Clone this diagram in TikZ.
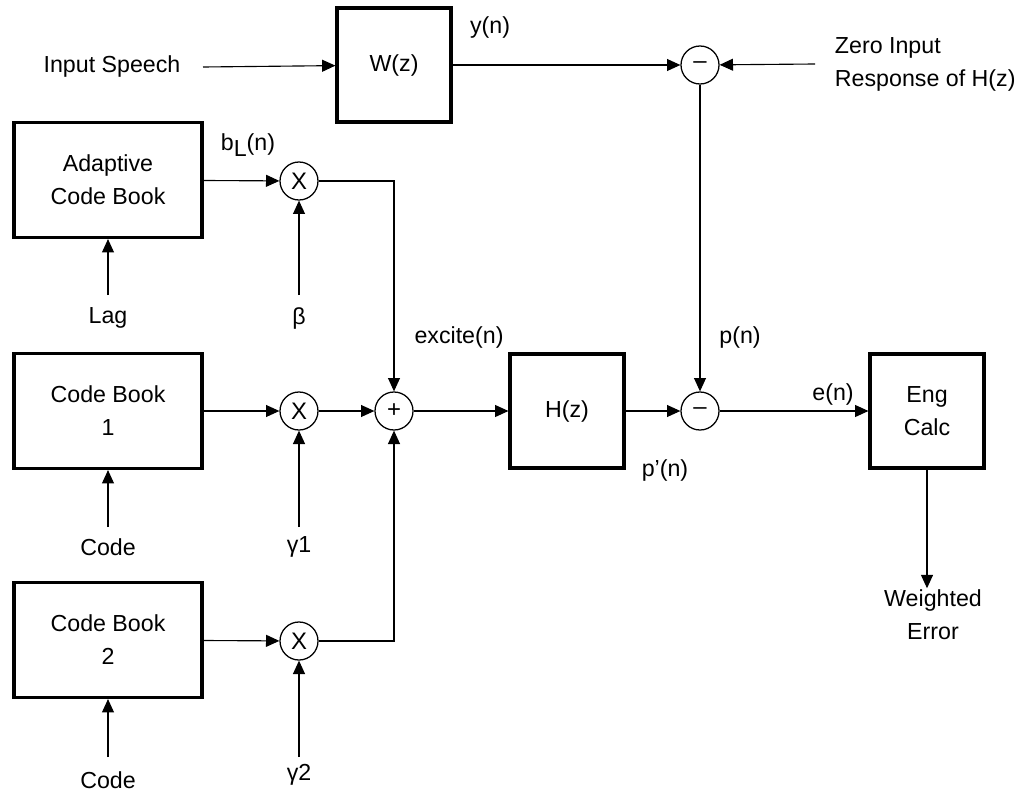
\documentclass[tikz,border=0pt]{standalone}
\usepackage{fontspec}
\setmainfont{Liberation Sans}
\usetikzlibrary{arrows.meta,positioning}

\begin{document}
\begin{tikzpicture}[x=0.025cm, y=-0.025cm,
    every node/.style={font=\fontsize{16.5}{23.5}\selectfont},
    block/.style={draw, line width=2.2pt, align=center, inner sep=0pt,
      minimum width=2.85cm, minimum height=2.85cm},
    wideblock/.style={block, minimum width=4.7cm, minimum height=2.875cm},
    junc/.style={draw, circle, line width=0.9pt, inner sep=0pt, minimum size=0.95cm,
      font=\fontsize{17}{19}\selectfont},
    arr/.style={line width=0.8pt, -{Triangle[length=9.5pt,width=8.5pt]}},
    wire/.style={line width=0.8pt}]
    \useasboundingbox (0,0) rectangle (1029,795);

    % top path
    \node (speech) at (112,67) {Input Speech};
    \node[block] (wz) at (394,65) {W(z)};
    \node (yn) at (490,28) {y(n)};
    \node[junc] (sub1) at (700,65) {--};
    \node[anchor=west, align=left] (zir) at (830,64) {Zero Input\\Response of H(z)};
    \draw[arr] (speech) ++(91,0) -- (wz);
    \draw[arr] (wz) -- (sub1);
    \draw[arr] (zir.west) ++(-15,0) -- (sub1);

    % code books
    \node[wideblock] (acb) at (108,180) {Adaptive\\Code Book};
    \node[wideblock] (cb1) at (108,411) {Code Book\\1};
    \node[wideblock] (cb2) at (108,640) {Code Book\\2};
    \node[junc] (mul0) at (299,181) {X};
    \node[junc] (mul1) at (299,411) {X};
    \node[junc] (mul2) at (299,641) {X};
    \node[junc] (add) at (394,411) {+};
    \node (bl) at (248,145) {b\raisebox{-0.45ex}{L}(n)};
    \node (lag) at (108,318) {Lag};
    \node (beta) at (299,318) {β};
    \node (code1) at (108,547) {Code};
    \node (gam1) at (299,547) {γ1};
    \node (code2) at (108,780) {Code};
    \node (gam2) at (299,775) {γ2};
    \draw[arr] (acb) -- (mul0);
    \draw[arr] (cb1) -- (mul1);
    \draw[arr] (cb2) -- (mul2);
    \draw[arr] (lag) ++(0,-23) -- (acb);
    \draw[arr] (beta) ++(0,-23) -- (mul0);
    \draw[arr] (code1) ++(0,-20) -- (cb1);
    \draw[arr] (gam1) ++(0,-20) -- (mul1);
    \draw[arr] (code2) ++(0,-23) -- (cb2);
    \draw[arr] (gam2) ++(0,-18) -- (mul2);
    \draw[arr] (mul0) -| (add);
    \draw[arr] (mul1) -- (add);
    \draw[arr] (mul2) -| (add);

    % synthesis and error
    \node (excite) at (459,337) {excite(n)};
    \node[block] (hz) at (567,411) {H(z)};
    \node[junc] (sub2) at (700,411) {--};
    \node (pn) at (740,337) {p(n)};
    \node (ppn) at (665,470) {p’(n)};
    \node (en) at (833,394) {e(n)};
    \node[block] (eng) at (927,411) {Eng\\Calc};
    \node[align=center, inner sep=1pt] (werr) at (933,615) {Weighted\\Error};
    \draw[arr] (add) -- (hz);
    \draw[arr] (hz) -- (sub2);
    \draw[arr] (sub1) -- (sub2);
    \draw[arr] (sub2) -- (eng);
    \draw[arr] (eng) -- (eng |- werr.north);
\end{tikzpicture}
\end{document}
